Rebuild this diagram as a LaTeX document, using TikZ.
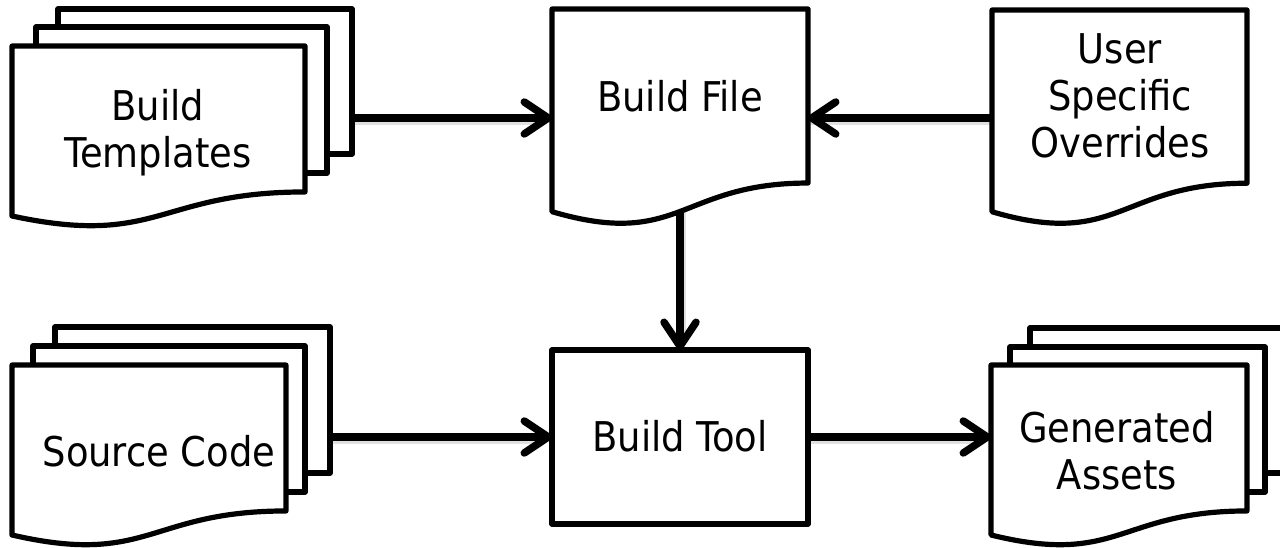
\documentclass[tikz,border=0pt]{standalone}
\usepackage{fontspec}
\setmainfont{DejaVu Sans Condensed}
\usetikzlibrary{arrows.meta}
\pgfdeclarelayer{bg}
\pgfsetlayers{bg,main}
\newcommand\docshape[4]{%
  \path[sheet] (#1,#2) -- (#1+#3,#2) -- (#1+#3,#2+0.802*#4)
    .. controls (#1+0.5*#3,#2+0.802*#4) and (#1+0.5*#3,#2+1.1075*#4) ..
    (#1,#2+0.934*#4) -- cycle;}
\tikzset{
  sheet/.style={draw=black, line width=5.2pt, fill=white, line join=round},
  box/.style={sheet, anchor=north west, inner sep=0pt, outer sep=0pt},
  area/.style={inner sep=0pt, outer sep=0pt},
  lbl/.style={font=\fontsize{41}{47}\selectfont, align=center, inner sep=0pt},
  arr/.style={line width=7.5pt,
    -{Straight Barb[round, length=24pt, width=32pt]}},
  shade/.style={line width=8pt, draw=black!20, opacity=0.6}
}
\begin{document}
\begin{tikzpicture}[x=1pt,y=-1pt]
\useasboundingbox (0,0) rectangle (1280,548);
\clip (0,0) rectangle (1280,548);
% --- Build Templates (stack) ---
\node[box, minimum width=294pt, minimum height=145pt] (tmplback) at (58,9) {};
\node[box, minimum width=291pt, minimum height=146pt] (tmplmid) at (36,27) {};
\docshape{12}{46}{293}{182}
\node[area, minimum width=293pt, minimum height=170pt] (tmpl) at (158.5,131) {};
\node[lbl] (tmpltext) at (158,133) {Build\\Templates};
% --- Build File ---
\docshape{552}{9}{256}{217}
\node[area, minimum width=256pt, minimum height=218pt] (file) at (680,118) {};
\node[lbl] (filetext) at (680,96) {Build File};
% --- User Specific Overrides ---
\docshape{992}{10}{255}{216}
\node[area, minimum width=255pt, minimum height=216pt] (user) at (1119.5,118) {};
\node[lbl] (usertext) at (1120,96) {User\\Specific\\Overrides};
% --- Source Code (stack) ---
\node[box, minimum width=275pt, minimum height=146pt] (srcback) at (55,327) {};
\node[box, minimum width=272pt, minimum height=146pt] (srcmid) at (33,346) {};
\docshape{12}{365}{274}{182}
\node[area, minimum width=274pt, minimum height=170pt] (src) at (149,450) {};
\node[lbl] (srctext) at (159,451) {Source Code};
% --- Build Tool ---
\node[box, minimum width=256pt, minimum height=174pt] (tool) at (552,350) {};
\node[lbl] (tooltext) at (680,436) {Build Tool};
% --- Generated Assets (stack) ---
\node[box, minimum width=260pt, minimum height=145pt] (genback) at (1030,328) {};
\node[box, minimum width=255pt, minimum height=145pt] (genmid) at (1010,347) {};
\docshape{991}{365}{256}{182}
\node[area, minimum width=256pt, minimum height=144pt] (gen) at (1119,437) {};
\node[lbl] (gentext) at (1117,451) {Generated\\Assets};
% --- connectors (behind the shapes) ---
\begin{pgfonlayer}{bg}
  \draw[shade] ([shift={(2,3)}]tmplback.east |- file.west) -- ([shift={(-10,3)}]file.west);
  \draw[shade] ([shift={(10,3)}]user.west) -- ([shift={(2,3)}]file.east);
  \draw[shade] ([shift={(2,3)}]file.center) -- ([shift={(2,-10)}]tool.north);
  \draw[shade] ([shift={(2,3)}]srcback.east |- tool.west) -- ([shift={(-10,3)}]tool.west);
  \draw[shade] ([shift={(2,3)}]tool.east) -- ([shift={(-10,3)}]gen.west);
  \draw[arr] (tmplback.east |- file.west) -- (file.west);
  \draw[arr] (user.west) -- (file.east);
  \draw[arr] (file.center) -- (tool.north);
  \draw[arr] (srcback.east |- tool.west) -- (tool.west);
  \draw[arr] (tool.east) -- (gen.west);
\end{pgfonlayer}
\end{tikzpicture}
\end{document}
